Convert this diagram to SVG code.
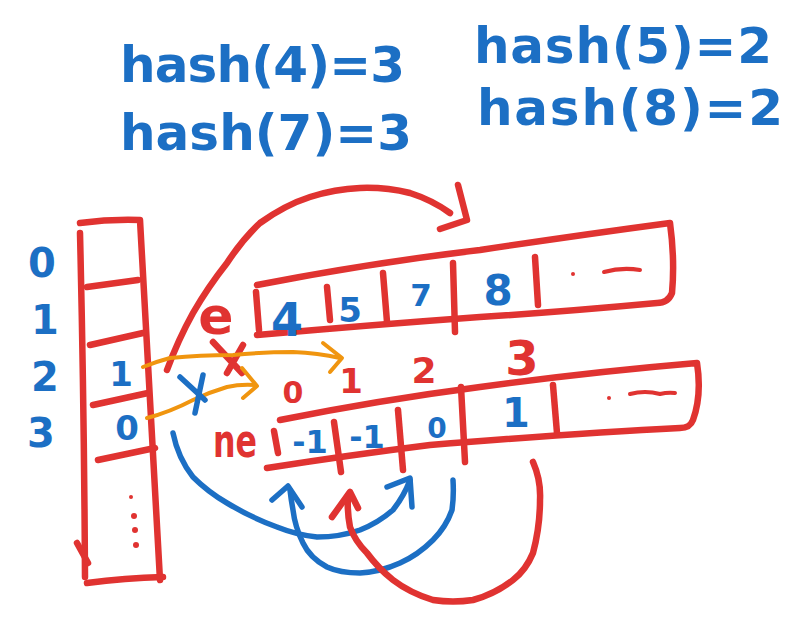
<svg xmlns="http://www.w3.org/2000/svg" width="811" height="625" viewBox="0 0 811 625">
<style>
.r{fill:none;stroke:#e03331;stroke-width:6.5;stroke-linecap:round;stroke-linejoin:round}
.b{fill:none;stroke:#1c6fc4;stroke-width:5.5;stroke-linecap:round;stroke-linejoin:round}
.o{fill:none;stroke:#f0950f;stroke-width:4;stroke-linecap:round;stroke-linejoin:round}
.tb{fill:#1c6fc4;font-family:"DejaVu Sans","Liberation Sans",sans-serif;font-weight:bold}
.tr{fill:#e03331;font-family:"DejaVu Sans","Liberation Sans",sans-serif;font-weight:bold}
</style>
<rect width="811" height="625" fill="#fff"/>
<g id="hash-labels" class="tb" font-size="50">
<text x="120" y="82" textLength="285" lengthAdjust="spacing">hash(4)=3</text>
<text x="474" y="63" textLength="298" lengthAdjust="spacing">hash(5)=2</text>
<text x="120" y="150" textLength="292" lengthAdjust="spacing">hash(7)=3</text>
<text x="477" y="125" textLength="306" lengthAdjust="spacing">hash(8)=2</text>
</g>
<g id="bucket-array">
<path class="r" d="M80 223 Q110 219 140 220 L160 580"/>
<path class="r" d="M80 233 Q84 400 85 577"/>
<path class="r" d="M77 543 L88 563"/>
<path class="r" d="M87 583 Q125 578 163 577"/>
<path class="r" d="M87 287 L138 280"/>
<path class="r" d="M90 345 L143 333"/>
<path class="r" d="M93 405 L148 393"/>
<path class="r" d="M98 460 L155 448"/>
<g class="tb" font-size="40" text-anchor="middle">
<text x="42" y="277">0</text>
<text x="45" y="334">1</text>
<text x="45" y="391">2</text>
<text x="41" y="447">3</text>
</g>
<g class="tb" font-size="34" text-anchor="middle">
<text x="121" y="386">1</text>
<text x="127" y="440">0</text>
</g>
<g fill="#e03331">
<circle cx="131" cy="497" r="2"/>
<circle cx="134" cy="516" r="3"/>
<circle cx="135" cy="530" r="3"/>
<circle cx="136" cy="545" r="3"/>
</g>
</g>
<g id="entry-array">
<path class="r" d="M257 285 Q370 263 480 250 Q580 235 670 223 Q675 260 672 293 Q668 303 657 303 Q560 312 480 317 Q370 325 257 335"/>
<path class="r" d="M256 292 L259 330"/>
<path class="r" d="M327 287 L330 320"/>
<path class="r" d="M383 273 L387 322"/>
<path class="r" d="M453 263 L455 332"/>
<path class="r" d="M535 257 L538 305"/>
<g class="tb" text-anchor="middle">
<text x="287" y="336" font-size="46">4</text>
<text x="350" y="322" font-size="34">5</text>
<text x="421" y="306" font-size="31">7</text>
<text x="498" y="305" font-size="42">8</text>
</g>
<circle cx="573" cy="274" r="2" fill="#e03331"/>
<path d="M604 272 Q622 267 640 270" fill="none" stroke="#e03331" stroke-width="4" stroke-linecap="round"/>
<text class="tr" x="216" y="334" font-size="52" text-anchor="middle" font-weight="normal">e</text>
</g>
<g id="next-array">
<path class="r" d="M280 420 Q380 400 480 387 Q590 372 697 363 Q702 395 693 420 Q690 428 680 428 Q580 433 430 445 Q350 455 267 468"/>
<path class="r" d="M274 431 L278 453"/>
<path class="r" d="M334 422 L341 472"/>
<path class="r" d="M398 410 L403 470"/>
<path class="r" d="M461 387 L465 462"/>
<path class="r" d="M553 385 L557 433"/>
<g class="tb" text-anchor="middle" font-size="32">
<text x="310" y="453">-1</text>
<text x="367" y="448">-1</text>
<text x="437" y="438" font-size="28">0</text>
<text x="516" y="427" font-size="40">1</text>
</g>
<circle cx="609" cy="398" r="2" fill="#e03331"/>
<path d="M630 394 Q645 390 660 394 Q668 392 675 393" fill="none" stroke="#e03331" stroke-width="4" stroke-linecap="round"/>
<g class="tr" text-anchor="middle">
<text x="293" y="403" font-size="30">0</text>
<text x="351" y="393" font-size="34">1</text>
<text x="424" y="383" font-size="36">2</text>
<text x="522" y="375" font-size="48">3</text>
</g>
<text class="tr" x="213" y="457" font-size="46" textLength="44" lengthAdjust="spacingAndGlyphs" font-weight="normal">ne</text>
</g>
<g id="connectors">
<path class="r" d="M167 370 Q178 340 193 313 Q208 287 227 263 Q242 240 260 223 Q285 205 310 197 Q335 189 360 188 Q385 187 410 193 Q432 200 450 213"/>
<path class="r" d="M458 185 L467 220 L440 229"/>
<path class="r" d="M213 342 L242 373 M243 345 L227 373"/>
<path class="o" d="M143 367 Q155 362 170 358 Q200 355 233 355 Q265 352 293 352 Q318 353 340 358"/>
<path class="o" d="M323 343 L342 358 L330 372"/>
<path class="o" d="M147 418 Q170 412 193 400 Q210 392 227 387 Q240 384 255 385"/>
<path class="o" d="M242 368 L257 386 L243 398"/>
<path class="b" d="M180 377 L205 400 M203 375 L195 413"/>
<path class="b" d="M173 433 Q178 458 193 477 Q208 492 227 503 Q250 517 277 527 Q297 535 317 537 Q340 537 360 530 Q378 523 393 510 Q404 496 410 480"/>
<path class="b" d="M387 487 L410 478 L412 507"/>
<path class="b" d="M453 480 Q454 496 452 510 Q446 527 433 540 Q418 555 400 563 Q380 572 360 573 Q340 573 327 567 Q310 558 303 543 Q295 527 293 510 Q291 499 290 490"/>
<path class="b" d="M272 500 L288 486 L302 507"/>
<path class="r" d="M533 462 Q541 480 540 500 Q540 527 533 553 Q526 570 513 580 Q495 594 473 600 Q453 603 433 600 Q410 593 393 580 Q378 568 367 553 Q355 541 350 527 Q347 511 348 497"/>
<path class="r" d="M332 517 L350 492 L358 508"/>
</g>
</svg>
